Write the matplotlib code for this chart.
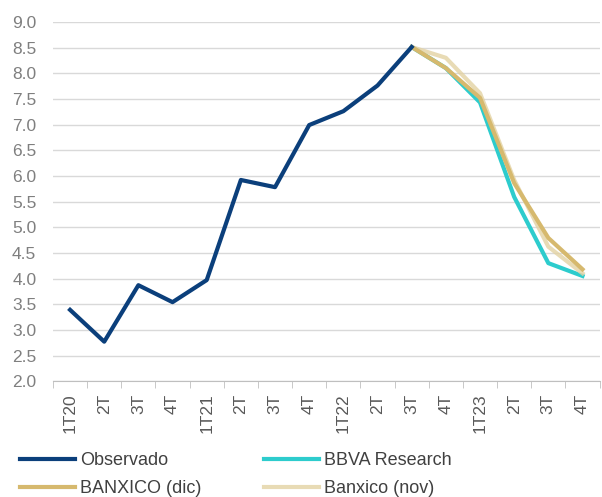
import matplotlib
matplotlib.use("Agg")
import matplotlib.pyplot as plt
import numpy as np

plt.rcParams['font.family'] = ['Liberation Sans', 'DejaVu Sans']

quarters = ["1T20", "2T", "3T", "4T", "1T21", "2T", "3T", "4T",
            "1T22", "2T", "3T", "4T", "1T23", "2T", "3T", "4T"]

# observed series runs 1T20..3T22, forecasts run 3T22..4T23
observado = [3.39, 2.77, 3.87, 3.54, 3.97, 5.92, 5.78, 6.99, 7.26, 7.76, 8.51]
bbva = [8.51, 8.10, 7.43, 5.59, 4.30, 4.05]
banxico_dic = [8.51, 8.10, 7.52, 5.86, 4.79, 4.18]
banxico_nov = [8.51, 8.30, 7.61, 5.92, 4.62, 4.10]

x_obs = np.arange(len(observado))
x_fc = np.arange(len(observado) - 1, len(quarters))

fig = plt.figure(figsize=(6.02, 4.97), dpi=100)
ax = fig.add_axes([0.088, 0.233, 0.908, 0.723])

lw = 3.0
l_bbva, = ax.plot(x_fc, bbva, color="#2DCCCD", lw=lw, label="BBVA Research", zorder=3)
l_nov, = ax.plot(x_fc, banxico_nov, color="#E3D2A3", lw=lw, alpha=0.8, label="Banxico (nov)", zorder=4)
l_dic, = ax.plot(x_fc, banxico_dic, color="#D6B96E", lw=lw, label="BANXICO (dic)", zorder=5)
l_obs, = ax.plot(x_obs, observado, color="#0B3F7B", lw=lw, label="Observado", zorder=6)

ax.set_xlim(-0.5, len(quarters) - 0.5)
ax.set_ylim(2.0, 9.0)
yticks = np.arange(2.0, 9.01, 0.5)
ax.set_yticks(yticks)
ax.set_yticklabels([f"{v:.1f}" for v in yticks])
ax.yaxis.grid(True, color="#D9D9D9", lw=1)
ax.set_axisbelow(True)

ax.set_xticks(np.arange(len(quarters)))
ax.set_xticklabels(quarters, rotation=90)
ax.set_xticks(np.arange(-0.5, len(quarters), 1), minor=True)
ax.tick_params(axis="x", which="major", length=0, pad=9, labelsize=12.5, labelcolor="#595959")
ax.tick_params(axis="x", which="minor", length=5, color="#BFBFBF")
ax.tick_params(axis="y", length=0, pad=12, labelsize=12.5, labelcolor="#7F7F7F")

for side in ["top", "right", "left"]:
    ax.spines[side].set_visible(False)
ax.spines["bottom"].set_color("#BFBFBF")

# two columns, filled column by column
fig.legend([l_obs, l_dic, l_bbva, l_nov],
           ["Observado", "BANXICO (dic)", "BBVA Research", "Banxico (nov)"],
           loc="upper left", bbox_to_anchor=(20 / 602, 1 - 452 / 497), ncol=2,
           frameon=False, borderpad=0, borderaxespad=0,
           fontsize=13, handlelength=3.05, handletextpad=0.28, columnspacing=3.45,
           labelcolor="#404040", labelspacing=0.62)

fig.savefig("out.png", dpi=100)
